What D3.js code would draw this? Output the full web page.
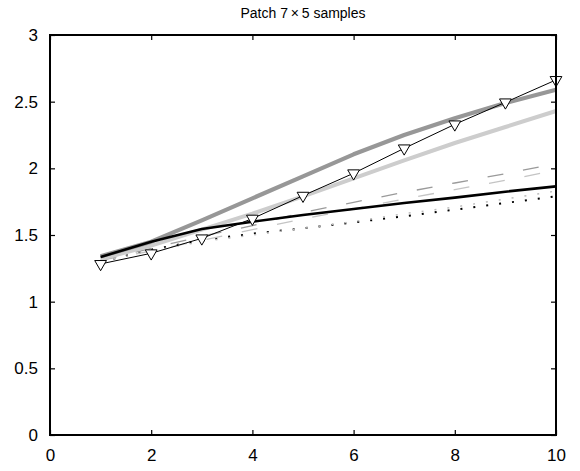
<!DOCTYPE html>
<html>
<head>
<meta charset="utf-8">
<script src="https://cdn.jsdelivr.net/npm/d3@7"></script>
<style>
  html, body { margin: 0; padding: 0; background: #fff; }
  svg { display: block; font-family: "Liberation Sans", Arial, sans-serif; }
</style>
</head>
<body>
<svg id="chart" width="580" height="471"></svg>
<script>
// Sample counts along the x axis
const samples = [1, 2, 3, 4, 5, 6, 7, 8, 9, 10];

// One array of values per curve
const thickDarkGray  = [1.34, 1.45, 1.61, 1.775, 1.94, 2.105, 2.25, 2.375, 2.49, 2.59];
const thickLightGray = [1.32, 1.42, 1.54, 1.66, 1.79, 1.925, 2.06, 2.19, 2.31, 2.43];
const thickBlack     = [1.335, 1.45, 1.545, 1.60, 1.65, 1.695, 1.74, 1.78, 1.825, 1.865];
const markedBlack    = [1.283, 1.363, 1.475, 1.623, 1.795, 1.963, 2.15, 2.33, 2.495, 2.663];
const dashedDark     = [1.31, 1.40, 1.49, 1.57, 1.67, 1.745, 1.82, 1.89, 1.96, 2.035];
const dashedLight    = [1.31, 1.38, 1.46, 1.54, 1.62, 1.695, 1.77, 1.84, 1.91, 1.985];
const dottedGray     = [1.30, 1.38, 1.45, 1.50, 1.55, 1.60, 1.66, 1.71, 1.77, 1.83];
const dottedBlack    = [1.30, 1.39, 1.46, 1.51, 1.55, 1.595, 1.64, 1.69, 1.74, 1.79];

// Axis ticks
const xTicks = [0, 2, 4, 6, 8, 10];
const yTicks = [0, 0.5, 1, 1.5, 2, 2.5, 3];
const yTickLabels = ["0", "0.5", "1", "1.5", "2", "2.5", "3"];

const titleText = "Patch 7\u2009\u00d7\u20095 samples";

const margin = { left: 50, right: 24, top: 35, bottom: 36 };
const W = 580, H = 471;
const svg = d3.select("#chart");

const x = d3.scaleLinear().domain([0, 10]).range([margin.left, W - margin.right]);
const y = d3.scaleLinear().domain([0, 3]).range([H - margin.bottom, margin.top]);

const line = d3.line().x((d, i) => x(samples[i])).y(d => y(d));

const series = [
  { values: dottedBlack,    stroke: "#000",    width: 2,   dash: "2,11" },
  { values: dottedGray,     stroke: "#bdbdbd", width: 1.5, dash: "2,11" },
  { values: dashedLight,    stroke: "#c4c4c4", width: 1.3, dash: "16,20" },
  { values: dashedDark,     stroke: "#9a9a9a", width: 1.3, dash: "16,20" },
  { values: thickLightGray, stroke: "#cdcdcd", width: 4,   dash: null },
  { values: thickDarkGray,  stroke: "#979797", width: 4.2, dash: null },
  { values: thickBlack,     stroke: "#000",    width: 2.6, dash: null },
  { values: markedBlack,    stroke: "#000",    width: 1,   dash: null }
];

const plot = svg.append("g");
plot.selectAll("path.series")
  .data(series)
  .join("path")
  .attr("class", "series")
  .attr("d", d => line(d.values))
  .attr("fill", "none")
  .attr("stroke", d => d.stroke)
  .attr("stroke-width", d => d.width)
  .attr("stroke-dasharray", d => d.dash)
  .attr("stroke-linejoin", "round");

// Downward triangle markers on the thin black curve
const tri = d3.symbol().type(d3.symbolTriangle).size(60);
plot.selectAll("path.marker")
  .data(markedBlack)
  .join("path")
  .attr("class", "marker")
  .attr("d", tri)
  .attr("transform", (d, i) => `translate(${x(samples[i])},${y(d)}) rotate(180)`)
  .attr("fill", "#fff")
  .attr("stroke", "#000")
  .attr("stroke-width", 1);

// Axes with inward ticks on all four sides
const tickLen = 5;
const bottomAxis = d3.axisBottom(x).tickValues(xTicks).tickSize(-tickLen).tickPadding(14).tickFormat(d3.format("d"));
const topAxis = d3.axisTop(x).tickValues(xTicks).tickSize(-tickLen).tickFormat("");
const leftAxis = d3.axisLeft(y).tickValues(yTicks).tickSize(-tickLen).tickPadding(12)
  .tickFormat((d, i) => yTickLabels[i]);
const rightAxis = d3.axisRight(y).tickValues(yTicks).tickSize(-tickLen).tickFormat("");

function style(g) {
  g.select(".domain").remove();
  g.selectAll(".tick line").attr("stroke", "#000").attr("stroke-width", 1.2);
  g.selectAll(".tick text").attr("fill", "#000").style("font-size", "17px")
    .style("font-family", "'Liberation Sans', Arial, sans-serif");
}

svg.append("g").attr("transform", `translate(0,${y(0)})`).call(bottomAxis).call(style);
svg.append("g").attr("transform", `translate(0,${y(3)})`).call(topAxis).call(style);
svg.append("g").attr("transform", `translate(${x(0)},0)`).call(leftAxis).call(style);
svg.append("g").attr("transform", `translate(${x(10)},0)`).call(rightAxis).call(style);

// Box around the plot
svg.append("rect")
  .attr("x", x(0)).attr("y", y(3))
  .attr("width", x(10) - x(0)).attr("height", y(0) - y(3))
  .attr("fill", "none").attr("stroke", "#000").attr("stroke-width", 2);

svg.append("text")
  .attr("x", (x(0) + x(10)) / 2)
  .attr("y", 18)
  .attr("text-anchor", "middle")
  .style("font-size", "14px")
  .attr("fill", "#000")
  .text(titleText);
</script>
</body>
</html>
